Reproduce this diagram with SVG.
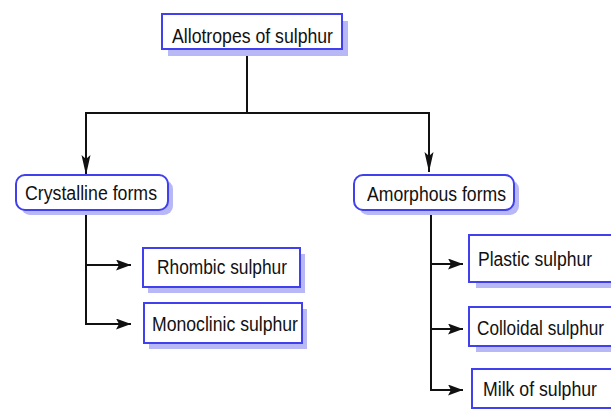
<svg xmlns="http://www.w3.org/2000/svg" width="611" height="409" viewBox="0 0 611 409">
<defs>
<style>
.box{fill:#fff;stroke:#4040ee;stroke-width:2}
.sh{fill:#b8b8f6}
.t{font-family:"Liberation Sans",Arial,sans-serif;font-size:19.5px;fill:#111}
.ln{fill:none;stroke:#111;stroke-width:2}
</style>
<marker id="ah" markerUnits="userSpaceOnUse" markerWidth="16" markerHeight="12" refX="15" refY="5.5" orient="auto">
<path d="M0,0 L15,5.5 L0,11 L3,5.5 Z" fill="#111"/>
</marker>
<marker id="av" markerUnits="userSpaceOnUse" markerWidth="21" markerHeight="10" refX="20" refY="4.5" orient="auto">
<path d="M0,0 L20,4.5 L0,9 L4,4.5 Z" fill="#111"/>
</marker>
</defs>
<rect width="611" height="409" fill="#fff"/>
<g id="connectors">
<path class="ln" d="M247,50 V113"/>
<path class="ln" d="M85,113 H430"/>
<path class="ln" d="M86,113 V175" marker-end="url(#av)"/>
<path class="ln" d="M429,113 V172" marker-end="url(#av)"/>
<path class="ln" d="M86,210 V325"/>
<path class="ln" d="M86,265 H131" marker-end="url(#ah)"/>
<path class="ln" d="M86,324 H131" marker-end="url(#ah)"/>
<path class="ln" d="M431,210 V391"/>
<path class="ln" d="M431,264 H463" marker-end="url(#ah)"/>
<path class="ln" d="M431,329 H463" marker-end="url(#ah)"/>
<path class="ln" d="M431,390 H463" marker-end="url(#ah)"/>
</g>
<g id="n-allotropes">
<rect class="sh" x="168" y="21" width="180" height="35"/>
<rect class="box" x="162" y="14" width="180" height="35"/>
<text class="t" x="172" y="43" textLength="161" lengthAdjust="spacingAndGlyphs">Allotropes of sulphur</text>
</g>
<g id="n-crystalline">
<rect class="sh" x="21" y="180" width="152" height="35" rx="9"/>
<rect class="box" x="16" y="175" width="152" height="35" rx="9"/>
<text class="t" x="25" y="200" textLength="132" lengthAdjust="spacingAndGlyphs">Crystalline forms</text>
</g>
<g id="n-amorphous">
<rect class="sh" x="359" y="180" width="160" height="35" rx="9"/>
<rect class="box" x="354" y="175" width="160" height="35" rx="9"/>
<text class="t" x="367" y="201" textLength="139" lengthAdjust="spacingAndGlyphs">Amorphous forms</text>
</g>
<g id="n-rhombic">
<rect class="sh" x="148" y="254" width="157" height="39"/>
<rect class="box" x="143" y="248" width="157" height="39"/>
<text class="t" x="157" y="274" textLength="130" lengthAdjust="spacingAndGlyphs">Rhombic sulphur</text>
</g>
<g id="n-monoclinic">
<rect class="sh" x="149" y="309" width="158" height="40"/>
<rect class="box" x="144" y="303" width="158" height="40"/>
<text class="t" x="152" y="331" textLength="146" lengthAdjust="spacingAndGlyphs">Monoclinic sulphur</text>
</g>
<g id="n-plastic">
<rect class="sh" x="476" y="242" width="150" height="46"/>
<rect class="box" x="469" y="235" width="150" height="47"/>
<text class="t" x="478" y="266" textLength="114" lengthAdjust="spacingAndGlyphs">Plastic sulphur</text>
</g>
<g id="n-colloidal">
<rect class="sh" x="476" y="313" width="150" height="39"/>
<rect class="box" x="469" y="307" width="150" height="39"/>
<text class="t" x="477" y="335" textLength="127" lengthAdjust="spacingAndGlyphs">Colloidal sulphur</text>
</g>
<g id="n-milk">
<rect class="sh" x="478" y="375" width="150" height="40"/>
<rect class="box" x="472" y="369" width="150" height="39"/>
<text class="t" x="483" y="396" textLength="114" lengthAdjust="spacingAndGlyphs">Milk of sulphur</text>
</g>
</svg>
